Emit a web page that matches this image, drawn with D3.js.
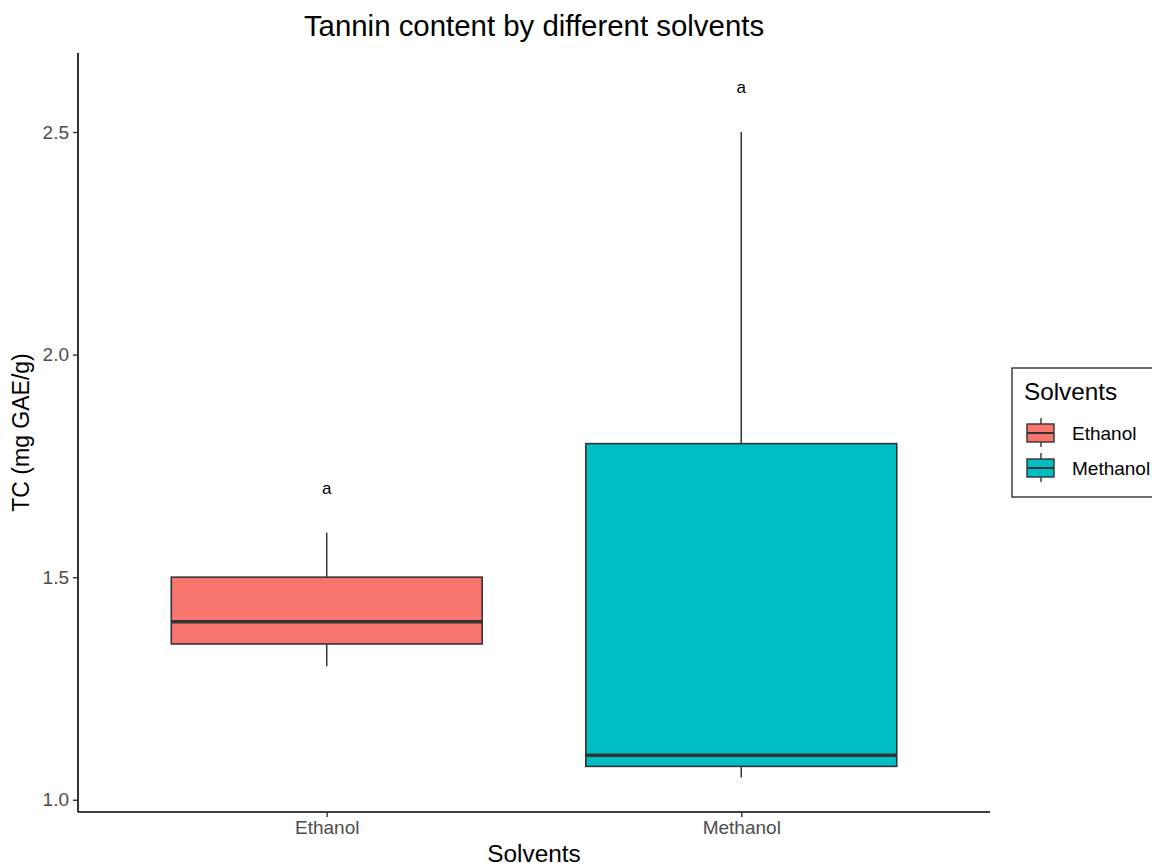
<!DOCTYPE html>
<html>
<head>
<meta charset="utf-8">
<script src="https://cdn.jsdelivr.net/npm/d3@7"></script>
<style>
  html, body { margin: 0; padding: 0; background: #fff; }
  svg { display: block; font-family: "Liberation Sans", Arial, sans-serif; }
</style>
</head>
<body>
<svg id="chart" width="1152" height="866"></svg>
<script>
// Box-plot statistics per solvent
const solvents = ["Ethanol", "Methanol"];
const whiskerLow = [1.30, 1.05];
const q1 = [1.35, 1.075];
const median = [1.40, 1.10];
const q3 = [1.50, 1.80];
const whiskerHigh = [1.60, 2.50];
// Letter groups printed above each box
const groupLetters = ["a", "a"];
const letterY = [1.70, 2.60];
const fills = ["#F8766D", "#00BFC4"];
const yTicks = [1.0, 1.5, 2.0, 2.5];

const svg = d3.select("#chart");
const panel = { left: 78, right: 990, top: 53, bottom: 812 };

const x = d3.scalePoint().domain(solvents).range([panel.left, panel.right]).padding(0.6);
const yMin = d3.min(whiskerLow), yMax = d3.max(letterY);
const pad = (yMax - yMin) * 0.05;
const y = d3.scaleLinear().domain([yMin - pad, yMax + pad]).range([panel.bottom, panel.top]);
const boxW = x.step() * 0.75;
const color = d3.scaleOrdinal().domain(solvents).range(fills);

const rows = solvents.map((s, i) => ({
  s, lo: whiskerLow[i], q1: q1[i], med: median[i], q3: q3[i], hi: whiskerHigh[i],
  letter: groupLetters[i], ly: letterY[i]
}));

const boxes = svg.append("g");
const g = boxes.selectAll("g.box").data(rows).join("g").attr("class", "box");
g.append("line")
  .attr("x1", d => x(d.s)).attr("x2", d => x(d.s))
  .attr("y1", d => y(d.q3)).attr("y2", d => y(d.hi))
  .attr("stroke", "#333333").attr("stroke-width", 1.5);
g.append("line")
  .attr("x1", d => x(d.s)).attr("x2", d => x(d.s))
  .attr("y1", d => y(d.q1)).attr("y2", d => y(d.lo))
  .attr("stroke", "#333333").attr("stroke-width", 1.5);
g.append("rect")
  .attr("x", d => x(d.s) - boxW / 2).attr("width", boxW)
  .attr("y", d => y(d.q3)).attr("height", d => y(d.q1) - y(d.q3))
  .attr("fill", d => color(d.s)).attr("stroke", "#333333").attr("stroke-width", 1.6);
g.append("line")
  .attr("x1", d => x(d.s) - boxW / 2).attr("x2", d => x(d.s) + boxW / 2)
  .attr("y1", d => y(d.med)).attr("y2", d => y(d.med))
  .attr("stroke", "#333333").attr("stroke-width", 3.4);
g.append("text")
  .attr("x", d => x(d.s)).attr("y", d => y(d.ly))
  .attr("text-anchor", "middle").attr("dominant-baseline", "central")
  .attr("font-size", 17).attr("fill", "#000")
  .text(d => d.letter);

// Axes
const yAxis = svg.append("g").attr("transform", `translate(${panel.left},0)`)
  .call(d3.axisLeft(y).tickValues(yTicks).tickFormat(d3.format(".1f")).tickSizeInner(5).tickSizeOuter(0).tickPadding(4));
const xAxis = svg.append("g").attr("transform", `translate(0,${panel.bottom})`)
  .call(d3.axisBottom(x).tickSizeInner(5).tickSizeOuter(0).tickPadding(4));
[yAxis, xAxis].forEach(a => {
  a.attr("font-size", 19).attr("font-family", "'Liberation Sans', Arial, sans-serif");
  a.select(".domain").attr("stroke", "#000").attr("stroke-width", 1.6);
  a.selectAll(".tick line").attr("stroke", "#333333").attr("stroke-width", 1.4);
  a.selectAll(".tick text").attr("fill", "#4D4D4D").attr("font-size", 19);
});
yAxis.select(".domain").attr("d", `M0,${panel.top}V${panel.bottom}`);
xAxis.select(".domain").attr("d", `M${panel.left},0H${panel.right}`);

// Titles
svg.append("text").attr("x", (panel.left + panel.right) / 2).attr("y", 36)
  .attr("text-anchor", "middle").attr("font-size", 29.4).attr("fill", "#000")
  .text("Tannin content by different solvents");
svg.append("text").attr("x", (panel.left + panel.right) / 2).attr("y", 862)
  .attr("text-anchor", "middle").attr("font-size", 24.4).attr("fill", "#000")
  .text("Solvents");
svg.append("text").attr("transform", `translate(29,${(panel.top + panel.bottom) / 2}) rotate(-90)`)
  .attr("text-anchor", "middle").attr("font-size", 23).attr("fill", "#000")
  .text("TC (mg GAE/g)");

// Legend
const lg = svg.append("g").attr("transform", "translate(1012,368)");
lg.append("rect").attr("x", 0).attr("y", 0).attr("width", 160).attr("height", 129)
  .attr("fill", "#fff").attr("stroke", "#222").attr("stroke-width", 1.3);
lg.append("text").attr("x", 12).attr("y", 32).attr("font-size", 24.3).attr("fill", "#000").text("Solvents");
const keys = lg.selectAll("g.key").data(solvents).join("g").attr("class", "key")
  .attr("transform", (d, i) => `translate(15,${48 + i * 35})`);
keys.append("line").attr("x1", 14).attr("x2", 14).attr("y1", 2).attr("y2", 31)
  .attr("stroke", "#333333").attr("stroke-width", 1.4);
keys.append("rect").attr("x", 0).attr("y", 8).attr("width", 27).attr("height", 18)
  .attr("fill", d => color(d)).attr("stroke", "#333333").attr("stroke-width", 1.4);
keys.append("line").attr("x1", 0).attr("x2", 27).attr("y1", 17).attr("y2", 17)
  .attr("stroke", "#333333").attr("stroke-width", 2);
keys.append("text").attr("x", 45).attr("y", 17).attr("dominant-baseline", "central")
  .attr("font-size", 19).attr("fill", "#000").text(d => d);
</script>
</body>
</html>
